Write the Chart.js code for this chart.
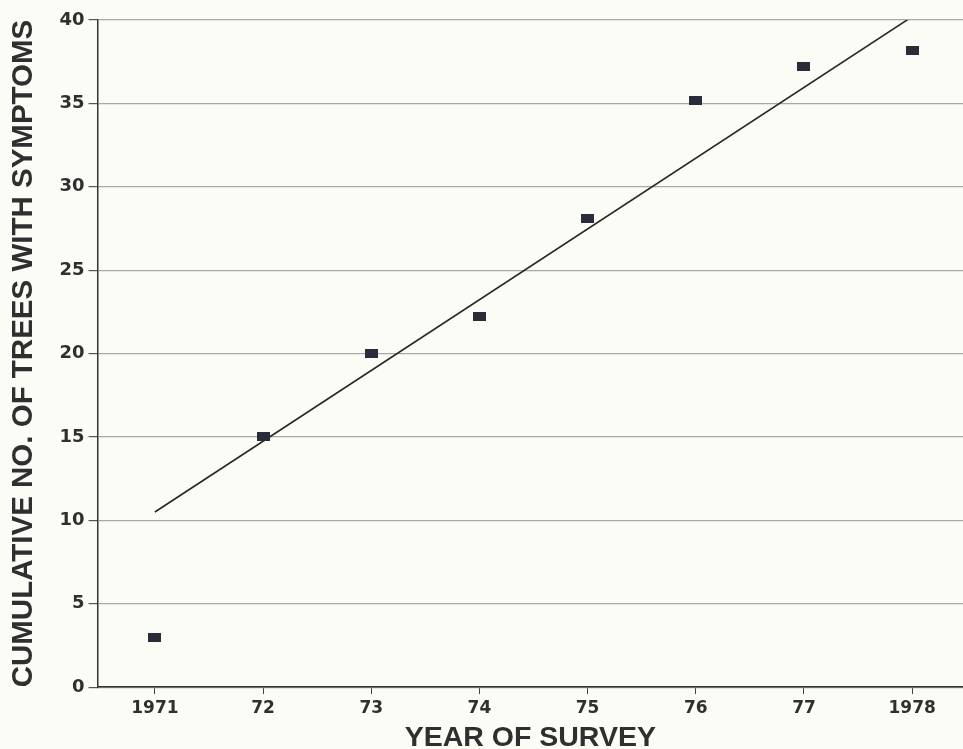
<!DOCTYPE html>
<html>
<head>
<meta charset="utf-8">
<script src="https://cdn.jsdelivr.net/npm/chart.js@4"></script>
<style>
    html, body { margin: 0; padding: 0; background: #fcfcf6; overflow: hidden; }
    #wrap { width: 968px; height: 752px; }
</style>
</head>
<body>
<div id="wrap"><canvas id="treesChart"></canvas></div>
<script>
const years = [1971, 1972, 1973, 1974, 1975, 1976, 1977, 1978];
const tickLabels = ['1971', '72', '73', '74', '75', '76', '77', '1978'];
const trees = [3, 15, 20, 22.2, 28.1, 35.2, 37.2, 38.2];
const trendYears = [1971, 1978];
const trendValues = [10.5, 40.2];
const yTicks = [0, 5, 10, 15, 20, 25, 30, 35, 40];

// маркер - тёмный прямоугольник
const marker = document.createElement('canvas');
marker.width = 13;
marker.height = 9;
const mctx = marker.getContext('2d');
mctx.fillStyle = '#2a2c3a';
mctx.fillRect(0, 0, 13, 9);

const ink = '#2f2f2f';

new Chart(document.getElementById('treesChart').getContext('2d'), {
    type: 'scatter',
    data: {
        datasets: [{
            label: 'Trees',
            data: years.map((y, i) => ({ x: y, y: trees[i] })),
            pointStyle: marker,
            showLine: false
        }, {
            label: 'Trend',
            data: trendYears.map((y, i) => ({ x: y, y: trendValues[i] })),
            showLine: true,
            borderColor: '#262626',
            borderWidth: 1.6,
            pointRadius: 0
        }]
    },
    options: {
        responsive: true,
        maintainAspectRatio: false,
        animation: false,
        layout: { padding: { top: 20, right: 0, bottom: 0, left: 9 } },
        plugins: {
            legend: { display: false },
            tooltip: { enabled: false }
        },
        scales: {
            x: {
                type: 'linear',
                min: 1970.47,
                max: 1978.47,
                afterBuildTicks: axis => { axis.ticks = years.map(v => ({ value: v })); },
                ticks: {
                    color: ink,
                    font: { family: 'DejaVu Sans', weight: 'bold', size: 17 },
                    padding: 4,
                    callback: (v) => tickLabels[years.indexOf(v)]
                },
                grid: { drawOnChartArea: false, tickLength: 7, tickColor: '#444' },
                border: { color: '#333', width: 1.5 },
                title: {
                    display: true,
                    text: 'YEAR OF SURVEY',
                    color: ink,
                    font: { family: 'Liberation Sans', weight: 'bold', size: 28.5, lineHeight: 1 },
                    padding: { top: 1, bottom: 0 }
                }
            },
            y: {
                min: 0,
                max: 40,
                afterBuildTicks: axis => { axis.ticks = yTicks.map(v => ({ value: v })); },
                ticks: {
                    color: ink,
                    font: { family: 'DejaVu Sans', weight: 'bold', size: 18 },
                    padding: 4
                },
                grid: { color: '#a9a9a4', lineWidth: 1.2, tickLength: 9, tickColor: '#555' },
                border: { color: '#333', width: 1.5 },
                title: {
                    display: true,
                    text: 'CUMULATIVE NO. OF TREES WITH SYMPTOMS',
                    color: ink,
                    font: { family: 'Liberation Sans', weight: 'bold', size: 29.5, lineHeight: 1 },
                    padding: { top: 0, bottom: 17 }
                }
            }
        }
    }
});
</script>
</body>
</html>
